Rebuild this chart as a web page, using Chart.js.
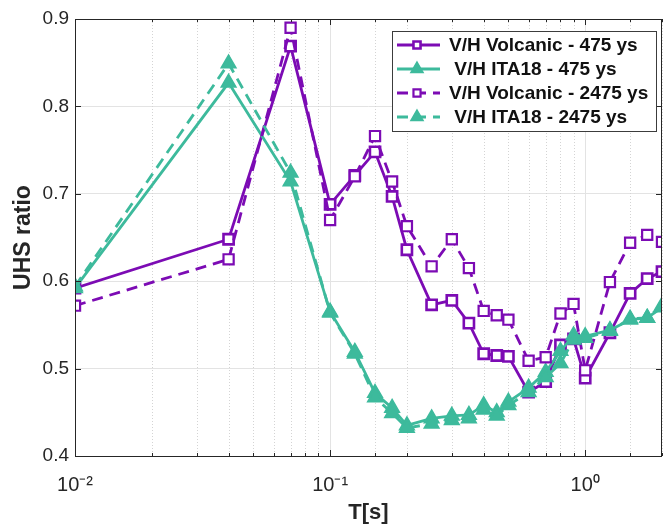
<!DOCTYPE html>
<html>
<head>
<meta charset="utf-8">
<script src="https://cdn.jsdelivr.net/npm/chart.js@4/dist/chart.umd.min.js"></script>
<style>
  html, body { margin: 0; padding: 0; background: #fff; }
  #wrap { width: 664px; height: 526px; }
</style>
</head>
<body>
<div id="wrap"><canvas id="graph" width="664" height="526"></canvas></div>
<script>
// periods T [s]
var periods = [0.01, 0.04, 0.07, 0.1, 0.125, 0.15, 0.175, 0.2, 0.25, 0.3, 0.35, 0.4, 0.45, 0.5,
               0.6, 0.7, 0.8, 0.9, 1.0, 1.25, 1.5, 1.75, 2.0];

// V/H ratios
var volc475  = [0.592, 0.648, 0.869, 0.688, 0.721, 0.748, 0.697, 0.636, 0.573, 0.578, 0.552, 0.517, 0.515, 0.514,
                0.473, 0.485, 0.527, 0.534, 0.489, 0.541, 0.586, 0.603, 0.611];
var ita475   = [0.592, 0.827, 0.714, 0.565, 0.519, 0.472, 0.455, 0.435, 0.443, 0.446, 0.447, 0.458, 0.450, 0.462,
                0.478, 0.496, 0.520, 0.538, 0.537, 0.544, 0.556, 0.558, 0.570];
var volc2475 = [0.572, 0.625, 0.890, 0.670, 0.720, 0.766, 0.714, 0.663, 0.617, 0.648, 0.615, 0.566, 0.561, 0.556,
                0.509, 0.513, 0.563, 0.574, 0.498, 0.599, 0.644, 0.653, 0.645];
var ita2475  = [0.594, 0.849, 0.724, 0.564, 0.517, 0.467, 0.449, 0.432, 0.437, 0.441, 0.443, 0.453, 0.446, 0.458,
                0.473, 0.490, 0.506, 0.533, 0.535, 0.543, 0.557, 0.558, 0.572];

var seriesNames = ["V/H Volcanic - 475 ys", " V/H ITA18 - 475 ys", "V/H Volcanic - 2475 ys", " V/H ITA18 - 2475 ys"];
var yTicks = [0.4, 0.5, 0.6, 0.7, 0.8, 0.9];

var purple = "#7c0bb4";
var teal = "#3dba9c";
var axisColor = "#262626";
var gridColor = "#e3e3e3";
var fontFamily = "'Liberation Sans', Arial, sans-serif";

function pts(vals) {
  return periods.map(function (t, i) { return { x: t, y: vals[i] }; });
}

function isDecade(v) {
  var l = Math.log10(v);
  return Math.abs(l - Math.round(l)) < 1e-6;
}

function supLabel(v) {
  var sup = { "-": "\u207B", "0": "\u2070", "1": "\u00B9", "2": "\u00B2" };
  var e = String(Math.round(Math.log10(v)));
  return "10" + e.split("").map(function (c) { return sup[c]; }).join("");
}

function drawMarker(ctx, style, x, y, r, fill, stroke, bw) {
  ctx.save();
  ctx.setLineDash([]);
  ctx.beginPath();
  if (style === "rect") {
    var s = Math.SQRT1_2 * r;
    ctx.rect(x - s, y - s, 2 * s, 2 * s);
  } else {
    ctx.moveTo(x, y - r);
    ctx.lineTo(x + r * Math.sin(Math.PI / 3), y + r / 2);
    ctx.lineTo(x - r * Math.sin(Math.PI / 3), y + r / 2);
    ctx.closePath();
  }
  ctx.fillStyle = fill;
  ctx.fill();
  ctx.lineWidth = bw;
  ctx.strokeStyle = stroke;
  ctx.stroke();
  ctx.restore();
}

// dotted minor grid, box, inside ticks and the legend
var decor = {
  id: "decor",
  beforeDatasetsDraw: function (c) {
    var ctx = c.ctx, a = c.chartArea, xs = c.scales.x;
    ctx.save();
    ctx.strokeStyle = "#d4d4d4";
    ctx.lineWidth = 1;
    ctx.setLineDash([1, 2]);
    xs.ticks.forEach(function (t) {
      if (isDecade(t.value)) return;
      var px = Math.round(xs.getPixelForValue(t.value)) + 0.5;
      ctx.beginPath();
      ctx.moveTo(px, a.top);
      ctx.lineTo(px, a.bottom);
      ctx.stroke();
    });
    ctx.restore();
  },
  afterDatasetsDraw: function (c) {
    var ctx = c.ctx, a = c.chartArea, xs = c.scales.x, ys = c.scales.y;
    ctx.save();
    ctx.strokeStyle = axisColor;
    ctx.lineWidth = 1;
    ctx.setLineDash([]);
    ctx.strokeRect(a.left + 0.5, a.top + 0.5, a.right - a.left - 1, a.bottom - a.top);
    xs.ticks.forEach(function (t) {
      var px = Math.round(xs.getPixelForValue(t.value)) + 0.5;
      var len = isDecade(t.value) ? 6 : 3;
      ctx.beginPath();
      ctx.moveTo(px, a.bottom); ctx.lineTo(px, a.bottom - len);
      ctx.moveTo(px, a.top); ctx.lineTo(px, a.top + len);
      ctx.stroke();
    });
    ys.ticks.forEach(function (t) {
      var py = Math.round(ys.getPixelForValue(t.value)) + 0.5;
      ctx.beginPath();
      ctx.moveTo(a.left, py); ctx.lineTo(a.left + 6, py);
      ctx.moveTo(a.right, py); ctx.lineTo(a.right - 6, py);
      ctx.stroke();
    });

    // legend
    var bx = a.right - 270, by = a.top + 12, bw = 264, bh = 100, row = 24;
    ctx.fillStyle = "#fff";
    ctx.fillRect(bx, by, bw, bh);
    ctx.strokeStyle = "#3c3c3c";
    ctx.strokeRect(bx + 0.5, by + 0.5, bw, bh);
    ctx.font = "bold 19px " + fontFamily;
    ctx.textBaseline = "middle";
    c.data.datasets.forEach(function (ds, i) {
      var y = by + 14 + i * row;
      var x0 = bx + 5, x1 = bx + 48;
      ctx.strokeStyle = ds.borderColor;
      ctx.lineWidth = ds.borderWidth;
      ctx.setLineDash(ds.borderDash || []);
      ctx.beginPath();
      ctx.moveTo(x0, y); ctx.lineTo(x1, y);
      ctx.stroke();
      var r = ds.pointStyle === "rect" ? 5 : 7;
      drawMarker(ctx, ds.pointStyle, x0 + 20, y, r,
                 ds.pointBackgroundColor, ds.pointBorderColor, ds.pointBorderWidth);
      ctx.fillStyle = "#111";
      ctx.fillText(seriesNames[i], bx + 57, y + 1);
    });
    ctx.restore();
  }
};

var ctx = document.getElementById("graph").getContext("2d");

var chart = new Chart(ctx, {
  type: "line",
  data: {
    datasets: [
      {
        label: seriesNames[0], data: pts(volc475), order: 4,
        borderColor: purple, borderWidth: 2.8,
        pointStyle: "rect", pointRadius: 7.2, pointBorderWidth: 2.6,
        pointBackgroundColor: "#fff", pointBorderColor: purple
      },
      {
        label: seriesNames[1], data: pts(ita475), order: 3,
        borderColor: teal, borderWidth: 2.8,
        pointStyle: "triangle", pointRadius: 8.5, pointBorderWidth: 1.5,
        pointBackgroundColor: teal, pointBorderColor: teal
      },
      {
        label: seriesNames[2], data: pts(volc2475), order: 2,
        borderColor: purple, borderWidth: 2.8, borderDash: [11, 7],
        pointStyle: "rect", pointRadius: 7.2, pointBorderWidth: 2.2,
        pointBackgroundColor: "#fff", pointBorderColor: purple
      },
      {
        label: seriesNames[3], data: pts(ita2475), order: 1,
        borderColor: teal, borderWidth: 2.8, borderDash: [11, 7],
        pointStyle: "triangle", pointRadius: 8.5, pointBorderWidth: 1.5,
        pointBackgroundColor: teal, pointBorderColor: teal
      }
    ]
  },
  options: {
    responsive: false,
    animation: false,
    layout: { autoPadding: false, padding: { top: 19, right: 2, left: 0, bottom: 0 } },
    plugins: {
      legend: { display: false },
      tooltip: { enabled: false }
    },
    scales: {
      x: {
        type: "logarithmic",
        min: 0.01,
        max: 2,
        afterFit: function (s) { s.height = 70; s.paddingLeft = 0; s.paddingRight = 0; },
        border: { display: false },
        grid: {
          drawTicks: false,
          color: function (c) { return c.tick && isDecade(c.tick.value) ? gridColor : "rgba(0,0,0,0)"; }
        },
        ticks: {
          autoSkip: false,
          maxRotation: 0,
          padding: 17,
          color: axisColor,
          font: { family: fontFamily, size: 20 },
          callback: function (v) { return isDecade(v) ? supLabel(v) : ""; }
        },
        title: {
          display: true,
          text: "T[s]",
          color: axisColor,
          padding: { top: 0, bottom: 0 },
          font: { family: fontFamily, size: 22, weight: "bold" }
        }
      },
      y: {
        min: 0.4,
        max: 0.9,
        afterFit: function (s) { s.width = 75; },
        afterBuildTicks: function (s) { s.ticks = yTicks.map(function (v) { return { value: v }; }); },
        border: { display: false },
        grid: { drawTicks: false, color: gridColor },
        ticks: {
          padding: 6,
          color: axisColor,
          font: { family: fontFamily, size: 19 },
          callback: function (v) { return v.toFixed(1); }
        },
        title: {
          display: true,
          text: "UHS ratio",
          color: axisColor,
          padding: { top: 10, bottom: 0 },
          font: { family: fontFamily, size: 23, weight: "bold" }
        }
      }
    }
  },
  plugins: [decor]
});
</script>
</body>
</html>
